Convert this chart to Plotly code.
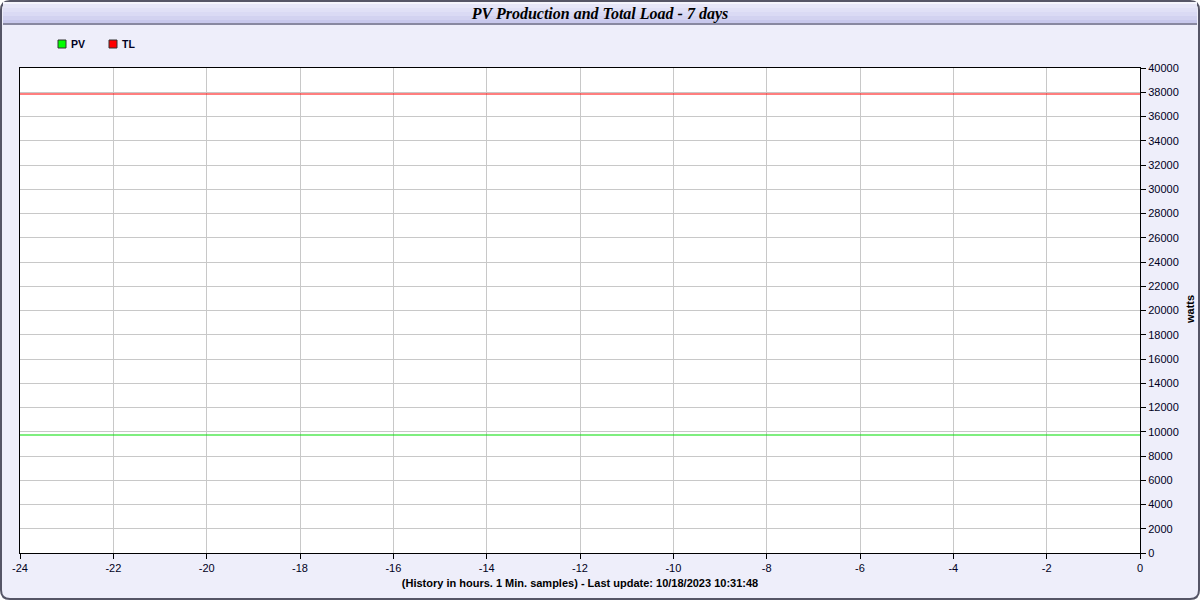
import plotly.graph_objects as go

# ---- data ----
hours = [-24, 0]
pv_watts = [9730, 9730]
tl_watts = [37860, 37860]
x_ticks = list(range(-24, 1, 2))
x_tick_labels = [str(v) for v in x_ticks]
y_ticks = list(range(0, 40001, 2000))
y_tick_labels = [str(v) for v in y_ticks]
series_names = ["PV", "TL"]
series_colors = ["#00DD00", "rgba(255,0,0,0.5)"]
legend_fill = ["#00FF00", "#FF0000"]

W, H = 1200, 600
L, R, T, B = 20, 60, 68, 47
PW, PH = W - L - R, H - T - B

def px(x):
    return (x - L) / PW

def py(y):
    return 1 - (y - T) / PH

fig = go.Figure()
fig.add_trace(go.Scatter(x=hours, y=pv_watts, mode="lines", name=series_names[0],
                         line=dict(color=series_colors[0], width=1.1), showlegend=False))
fig.add_trace(go.Scatter(x=hours, y=tl_watts, mode="lines", name=series_names[1],
                         line=dict(color=series_colors[1], width=2), showlegend=False))

shapes = []
# panel background with rounded corners
r = 9
x0, y0, x1, y1 = 1, 1, 1199, 599
path = (f"M {px(x0+r)},{py(y0)} L {px(x1-r)},{py(y0)} Q {px(x1)},{py(y0)} {px(x1)},{py(y0+r)} "
        f"L {px(x1)},{py(y1-r)} Q {px(x1)},{py(y1)} {px(x1-r)},{py(y1)} "
        f"L {px(x0+r)},{py(y1)} Q {px(x0)},{py(y1)} {px(x0)},{py(y1-r)} "
        f"L {px(x0)},{py(y0+r)} Q {px(x0)},{py(y0)} {px(x0+r)},{py(y0)} Z")
shapes.append(dict(type="path", path=path, xref="paper", yref="paper",
                   fillcolor="#EEEEFA", line=dict(color="#555566", width=2), layer="below"))
# title bar gradient bands
bands = [(2, 4, "#F4F4FC"), (4, 8, "#E6E6F8"), (8, 12, "#E0E0F6"), (12, 16, "#DADAF4"),
         (16, 20, "#D2D2F0"), (20, 23, "#C8C8EC"), (23, 25, "#8888A0")]
for a, b, c in bands:
    shapes.append(dict(type="rect", xref="paper", yref="paper",
                       x0=px(3), x1=px(1197), y0=py(b), y1=py(a),
                       fillcolor=c, line=dict(width=0), layer="below"))
# white plot area
shapes.append(dict(type="rect", xref="paper", yref="paper", x0=0, x1=1, y0=0, y1=1,
                   fillcolor="white", line=dict(width=0), layer="below"))
# legend squares
for cx, col in zip([62, 113], legend_fill):
    shapes.append(dict(type="rect", xref="paper", yref="paper",
                       x0=px(cx - 4), x1=px(cx + 4), y0=py(48), y1=py(40),
                       fillcolor=col, line=dict(color="#333333", width=1)))

annotations = []
for tx, name in zip([70, 121], series_names):
    annotations.append(dict(text=f"<b>{name}</b>", x=px(tx - 1), y=py(44), xref="paper", yref="paper",
                            xanchor="left", yanchor="middle", showarrow=False,
                            font=dict(family="Liberation Sans, Arial", size=10.5, color="#000022")))
annotations.append(dict(text="<b>watts</b>", x=px(1190), y=py(310), xref="paper", yref="paper",
                        xanchor="center", yanchor="middle", showarrow=False, textangle=-90,
                        font=dict(family="Liberation Sans, Arial", size=11, color="#000000")))

fig.update_layout(
    width=W, height=H,
    margin=dict(l=L, r=R, t=T, b=B),
    paper_bgcolor="white", plot_bgcolor="white",
    showlegend=False,
    shapes=shapes, annotations=annotations,
    title=dict(text="<b><i>PV Production and Total Load - 7 days</i></b>",
               x=0.5, xanchor="center", xref="container",
               y=1 - 13 / H, yanchor="middle", yref="container",
               font=dict(family="Liberation Serif, Times New Roman", size=16, color="#000000")),
    xaxis=dict(range=[-24, 0], tickvals=x_ticks, ticktext=x_tick_labels,
               ticks="outside", ticklen=5, tickcolor="black",
               showgrid=True, gridcolor="#C8C8C8", gridwidth=1, zeroline=False,
               showline=True, linecolor="black", linewidth=1, mirror=True,
               tickfont=dict(family="Liberation Sans, Arial", size=11, color="#000022"),
               title=dict(text="<b>(History in hours. 1 Min. samples) - Last update: 10/18/2023 10:31:48</b>",
                          font=dict(family="Liberation Sans, Arial", size=11, color="#000000"),
                          standoff=6)),
    yaxis=dict(range=[0, 40000], tickvals=y_ticks, ticktext=y_tick_labels,
               side="right", ticks="outside", ticklen=5,
               tickcolor="black", showgrid=True, gridcolor="#C8C8C8", gridwidth=1, zeroline=False,
               showline=True, linecolor="black", linewidth=1, mirror=True,
               tickfont=dict(family="Liberation Sans, Arial", size=11, color="#000022")),
)

fig.write_html("out.html", config={"displayModeBar": False},
               post_script="document.body.style.margin='0px';")
